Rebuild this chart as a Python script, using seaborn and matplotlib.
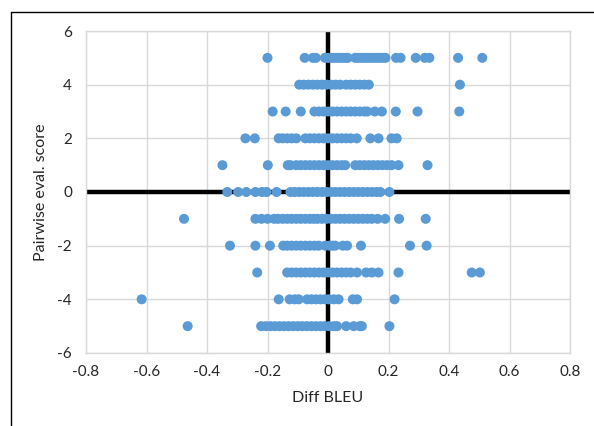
import pandas as pd
import numpy as np
import matplotlib
matplotlib.use("Agg")
import matplotlib.pyplot as plt
import seaborn as sns

# diff BLEU values, one list per pairwise score
row_p5 = [-0.20, -0.077, -0.05, -0.04, -0.01, 0.0, 0.01, 0.02, 0.03, 0.04, 0.05, 0.06,
          0.065, 0.09, 0.10, 0.11, 0.12, 0.13, 0.14, 0.15, 0.16, 0.17, 0.18, 0.19,
          0.225, 0.24, 0.29, 0.32, 0.335, 0.43, 0.51]
row_p4 = [-0.095, -0.08, -0.065, -0.05, -0.035, -0.02, -0.005, 0.01, 0.025, 0.04,
          0.06, 0.075, 0.09, 0.105, 0.12, 0.135, 0.436]
row_p3 = [-0.183, -0.14, -0.09, -0.045, -0.03, -0.015, 0.0, 0.015, 0.03, 0.045, 0.06,
          0.075, 0.09, 0.105, 0.12, 0.13, 0.155, 0.178, 0.224, 0.296, 0.434]
row_p2 = [-0.273, -0.242, -0.163, -0.15, -0.135, -0.12, -0.105, -0.075, -0.06, -0.045,
          -0.03, -0.015, 0.0, 0.015, 0.03, 0.045, 0.06, 0.075, 0.095, 0.14, 0.167,
          0.21, 0.227]
row_p1 = [-0.349, -0.199, -0.133, -0.124, -0.105, -0.09, -0.075, -0.06, -0.045, -0.03,
          -0.015, 0.0, 0.015, 0.03, 0.045, 0.057, 0.09, 0.105, 0.12, 0.135, 0.15,
          0.165, 0.18, 0.195, 0.21, 0.233, 0.329]
row_0 = [-0.333, -0.297, -0.27, -0.24, -0.218, -0.203, -0.17, -0.124, -0.11, -0.095,
         -0.08, -0.065, -0.05, -0.035, -0.02, -0.005, 0.01, 0.025, 0.04, 0.055, 0.07,
         0.085, 0.10, 0.115, 0.13, 0.145, 0.16, 0.173, 0.203]
row_m1 = [-0.476, -0.24, -0.22, -0.2, -0.178, -0.165, -0.15, -0.135, -0.12, -0.105,
          -0.09, -0.075, -0.06, -0.047, -0.035, -0.02, -0.005, 0.01, 0.025, 0.04,
          0.055, 0.07, 0.085, 0.10, 0.115, 0.13, 0.145, 0.164, 0.189, 0.235, 0.323]
row_m2 = [-0.324, -0.24, -0.192, -0.148, -0.135, -0.12, -0.105, -0.09, -0.075, -0.06,
          -0.045, -0.031, -0.009, 0.005, 0.015, 0.024, 0.049, 0.063, 0.109, 0.271, 0.326]
row_m3 = [-0.234, -0.135, -0.12, -0.105, -0.09, -0.075, -0.06, -0.045, -0.03, -0.015,
          0.0, 0.015, 0.03, 0.045, 0.06, 0.075, 0.096, 0.126, 0.145, 0.167, 0.233,
          0.475, 0.502]
row_m4 = [-0.616, -0.163, -0.127, -0.11, -0.097, -0.069, -0.055, -0.04, -0.025, -0.01,
          0.002, 0.019, 0.035, 0.082, 0.096, 0.22]
row_m5 = [-0.464, -0.221, -0.205, -0.19, -0.175, -0.16, -0.145, -0.13, -0.115, -0.10,
          -0.085, -0.07, -0.055, -0.04, -0.025, -0.01, 0.005, 0.02, 0.03, 0.06, 0.085,
          0.105, 0.112, 0.203]

scores = [5, 4, 3, 2, 1, 0, -1, -2, -3, -4, -5]
rows = [row_p5, row_p4, row_p3, row_p2, row_p1, row_0, row_m1, row_m2, row_m3, row_m4, row_m5]

x_ticks = [-0.8, -0.6, -0.4, -0.2, 0, 0.2, 0.4, 0.6, 0.8]
y_ticks = [-6, -4, -2, 0, 2, 4, 6]

df = pd.DataFrame({
    'diff_bleu': [v for r in rows for v in r],
    'score': [s for s, r in zip(scores, rows) for _ in r],
})

sns.set_style("white")
plt.rcParams['font.family'] = ['Lato', 'DejaVu Sans']

txt = '#262626'
fig = plt.figure(figsize=(5.94, 4.26), dpi=100)
ax = fig.add_axes([0.1448, 0.1714, 0.8148, 0.7558])

ax.set_xlim(-0.8, 0.8)
ax.set_ylim(-6, 6)
ax.set_xticks(x_ticks)
ax.set_yticks(y_ticks)
ax.set_xticklabels([f"{t:g}" for t in x_ticks])
ax.set_yticklabels([f"{t:g}" for t in y_ticks])
ax.grid(True, color='#d9d9d9', linewidth=1.0)
ax.set_axisbelow(True)
for s in ax.spines.values():
    s.set_color('#d9d9d9')
    s.set_linewidth(1.0)

ax.axhline(0, color='black', linewidth=3.2, zorder=2)
ax.axvline(0, color='black', linewidth=3.2, zorder=2)

sns.scatterplot(data=df, x='diff_bleu', y='score', ax=ax, color='#5B9BD5',
                s=52, edgecolor='none', linewidth=0, zorder=3, legend=False)

ax.tick_params(axis='both', length=0, labelsize=11, colors=txt)
ax.tick_params(axis='x', pad=9)
ax.tick_params(axis='y', pad=10)
ax.set_xlabel("Diff BLEU", fontsize=11.5, color=txt, labelpad=8)
ax.set_ylabel("Pairwise eval. score", fontsize=11.5, color=txt, labelpad=7)

# outer frame (only top and left edges show in the crop)
fig.add_artist(plt.Line2D([10.5 / 594, 1.0], [1 - 12 / 426, 1 - 12 / 426],
                          transform=fig.transFigure, color='black', linewidth=1.0))
fig.add_artist(plt.Line2D([10.5 / 594, 10.5 / 594], [0.0, 1 - 12 / 426],
                          transform=fig.transFigure, color='black', linewidth=1.0))

fig.savefig("out.png", dpi=100)
